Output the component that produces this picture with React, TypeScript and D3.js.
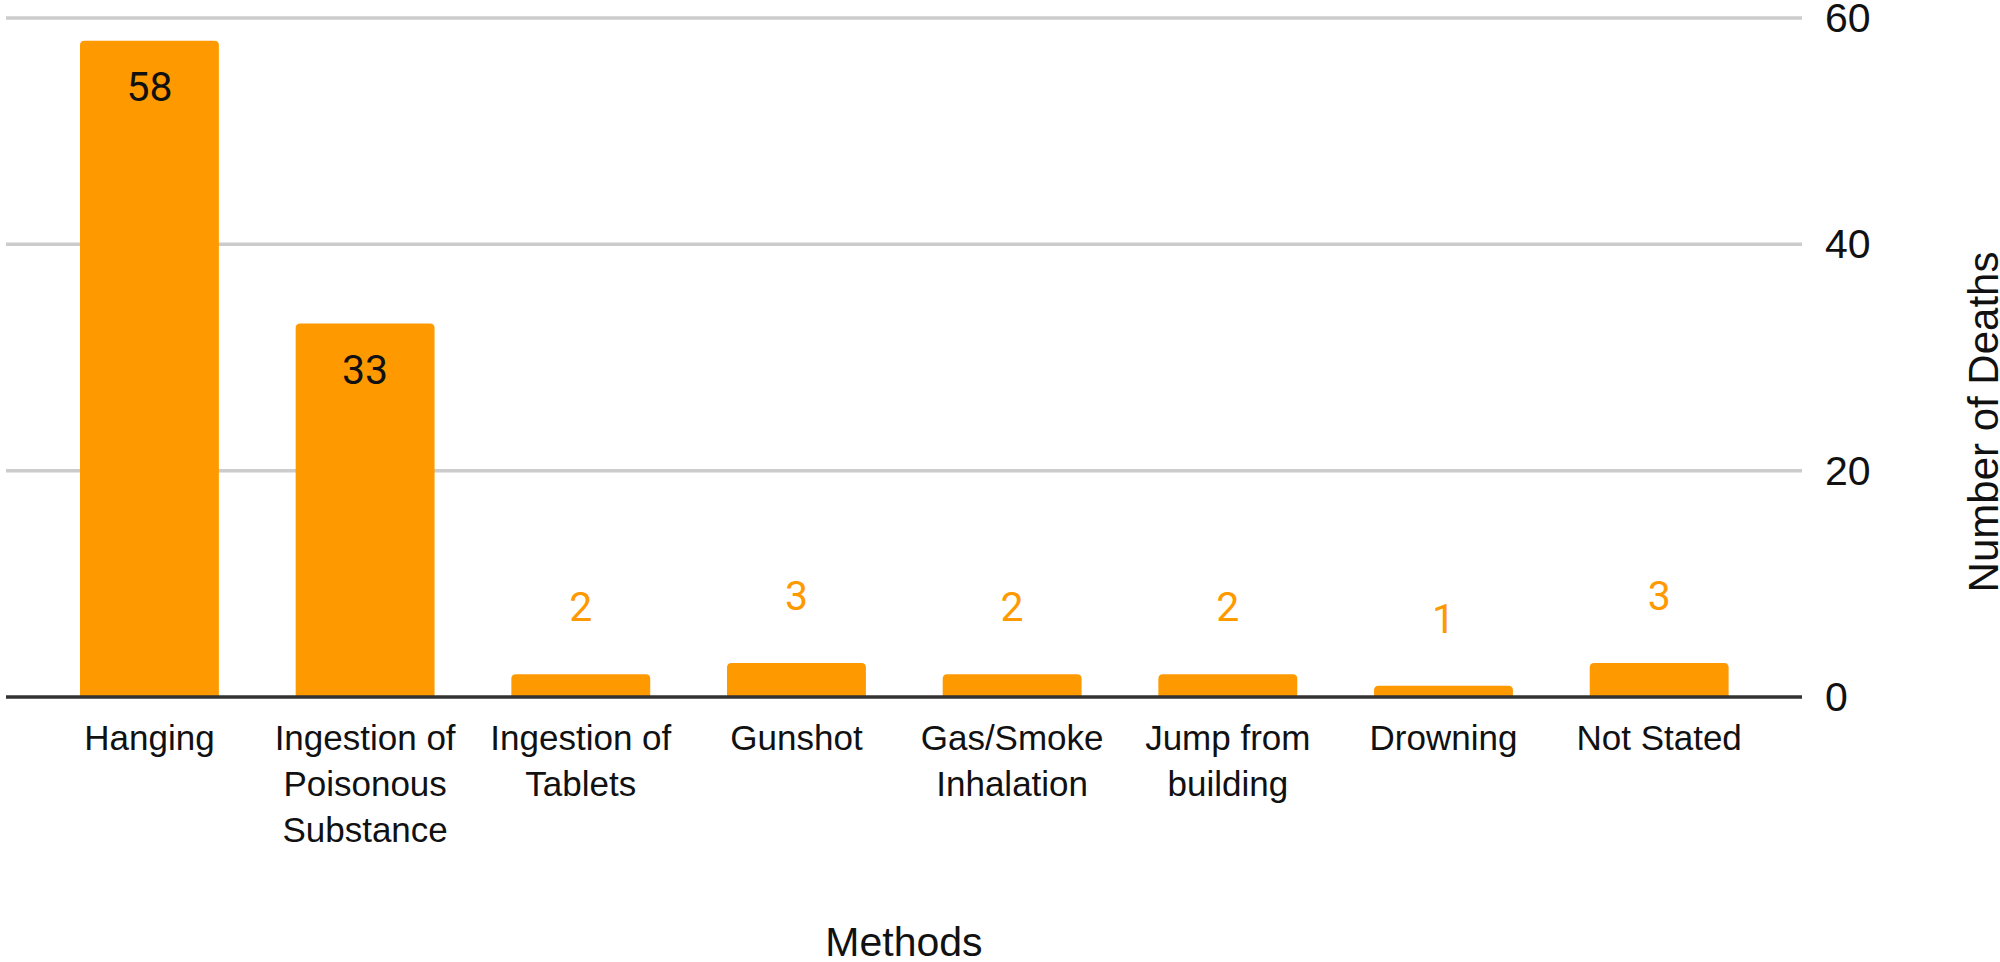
import React, { useEffect, useRef } from "react";
import * as d3 from "d3";

const categories = [
  "Hanging",
  "Ingestion of Poisonous Substance",
  "Ingestion of Tablets",
  "Gunshot",
  "Gas/Smoke Inhalation",
  "Jump from building",
  "Drowning",
  "Not Stated",
];
const deaths = [58, 33, 2, 3, 2, 2, 1, 3];
const yTicks = [0, 20, 40, 60];

const ORANGE = "#ff9900";
const FONT = "Arial, 'Liberation Sans', sans-serif";

function wrap(sel: any, width: number, lineHeight: number) {
  sel.each(function (this: SVGTextElement) {
    const text = d3.select(this);
    const words = text.text().split(/\s+/);
    const x = text.attr("x");
    const y = text.attr("y");
    text.text(null);
    let line: string[] = [];
    let lineNo = 0;
    let tspan = text.append("tspan").attr("x", x).attr("y", y);
    words.forEach((w) => {
      line.push(w);
      tspan.text(line.join(" "));
      if ((tspan.node() as SVGTSpanElement).getComputedTextLength() > width && line.length > 1) {
        line.pop();
        tspan.text(line.join(" "));
        line = [w];
        lineNo++;
        tspan = text
          .append("tspan")
          .attr("x", x)
          .attr("y", +y + lineNo * lineHeight)
          .text(w);
      }
    });
  });
}

// bar with rounded top corners
function barPath(x: number, y: number, w: number, h: number, r: number) {
  const rr = Math.min(r, h, w / 2);
  return `M${x},${y + h}V${y + rr}Q${x},${y} ${x + rr},${y}H${x + w - rr}Q${x + w},${y} ${x + w},${y + rr}V${y + h}Z`;
}

export default function App() {
  const ref = useRef<SVGSVGElement>(null);

  useEffect(() => {
    const svg = d3.select(ref.current);
    svg.selectAll("*").remove();

    const gridLeft = 6,
      gridRight = 1802;

    const x = d3.scaleBand().domain(categories).range([41.6, 1767]).paddingInner(0.356).paddingOuter(0.178);
    const y = d3.scaleLinear().domain([0, 60]).range([697, 18]);

    // gridlines
    svg
      .append("g")
      .selectAll("line")
      .data(yTicks.filter((t) => t !== 0))
      .enter()
      .append("line")
      .attr("x1", gridLeft)
      .attr("x2", gridRight)
      .attr("y1", (d) => y(d))
      .attr("y2", (d) => y(d))
      .attr("stroke", "#cccccc")
      .attr("stroke-width", 3.5);

    // tick labels on the right
    svg
      .append("g")
      .selectAll("text")
      .data(yTicks)
      .enter()
      .append("text")
      .attr("x", 1825)
      .attr("y", (d) => y(d))
      .attr("dominant-baseline", "central")
      .style("font-family", FONT)
      .style("font-size", "41px")
      .style("fill", "#111")
      .text((d) => d);

    // bars
    svg
      .append("g")
      .selectAll("path")
      .data(deaths)
      .enter()
      .append("path")
      .attr("d", (d, i) => barPath(x(categories[i])!, y(d), x.bandwidth(), y(0) - y(d), 4.5))
      .attr("fill", ORANGE);

    // baseline
    svg
      .append("line")
      .attr("x1", gridLeft)
      .attr("x2", gridRight)
      .attr("y1", y(0))
      .attr("y2", y(0))
      .attr("stroke", "#333")
      .attr("stroke-width", 3.5);

    // value labels
    svg
      .append("g")
      .selectAll("text")
      .data(deaths)
      .enter()
      .append("text")
      .attr("x", (d, i) => x(categories[i])! + x.bandwidth() / 2)
      .attr("y", (d) => (y(0) - y(d) > 80 ? y(d) + 60 : y(d) - 53))
      .attr("text-anchor", "middle")
      .style("font-family", "Roboto, Arial, sans-serif")
      .style("font-size", "41px")
      .style("fill", (d) => (y(0) - y(d) > 80 ? "#111" : ORANGE))
      .text((d) => d);

    // category labels
    svg
      .append("g")
      .selectAll("text")
      .data(categories)
      .enter()
      .append("text")
      .attr("x", (d) => x(d)! + x.bandwidth() / 2)
      .attr("y", 750)
      .attr("text-anchor", "middle")
      .style("font-family", FONT)
      .style("font-size", "35px")
      .style("fill", "#111")
      .text((d) => d)
      .call(wrap, 200, 46);

    // axis titles
    svg
      .append("text")
      .attr("x", (gridLeft + gridRight) / 2)
      .attr("y", 956)
      .attr("text-anchor", "middle")
      .style("font-family", FONT)
      .style("font-size", "41px")
      .style("fill", "#111")
      .text("Methods");

    svg
      .append("text")
      .attr("transform", "translate(1998,422) rotate(-90)")
      .attr("text-anchor", "middle")
      .style("font-family", FONT)
      .style("font-size", "42px")
      .style("fill", "#111")
      .text("Number of Deaths");
  }, []);

  return (
    <svg
      ref={ref}
      width={2000}
      height={962}
      style={{ position: "absolute", left: 0, top: 0, background: "#fff" }}
    />
  );
}
